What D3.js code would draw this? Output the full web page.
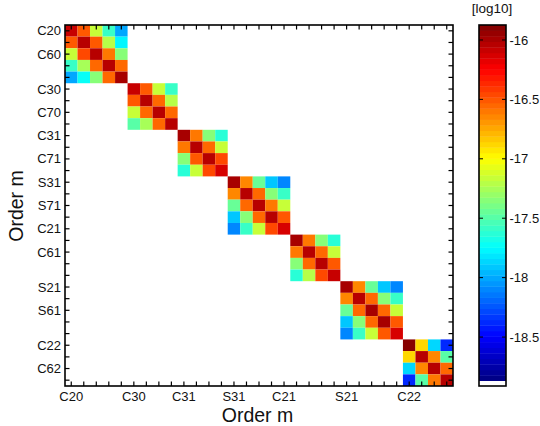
<!DOCTYPE html>
<html><head><meta charset="utf-8">
<script src="https://cdn.jsdelivr.net/npm/d3@7/dist/d3.min.js"></script>
<style>html,body{margin:0;padding:0;background:#fff}svg{display:block}text{font-family:"Liberation Sans",Arial,sans-serif;fill:#111}</style>
</head><body><svg id="c" width="540" height="426"></svg>
<script>
const rowTickIdx=[0,2,5,7,9,11,13,15,17,19,22,24,27,29];
const rowTickLabels=["C20","C60","C30","C70","C31","C71","S31","S71","C21","C61","S21","S61","C22","C62"];
const colTickIdx=[0,5,9,13,17,22,27];
const colTickLabels=["C20","C30","C31","S31","C21","S21","C22"];
const cbarTicks=[-16,-16.5,-17,-17.5,-18,-18.5];
const blockC20=[[-16.08,-16.50,-17.16,-17.56,-18.02],[-16.50,-16.04,-16.50,-17.23,-17.75],[-17.18,-16.48,-16.02,-16.58,-17.33],[-17.56,-17.25,-16.55,-16.02,-16.55],[-18.02,-17.73,-17.33,-16.54,-15.99]];
const blockC30=[[-16.08,-16.50,-17.14,-17.56],[-16.50,-16.06,-16.57,-17.23],[-17.16,-16.55,-16.04,-16.55],[-17.51,-17.25,-16.55,-16.06]];
const blockC31=[[-15.99,-16.62,-17.33,-17.65],[-16.62,-16.02,-16.55,-17.18],[-17.33,-16.52,-16.02,-16.48],[-17.65,-17.18,-16.48,-16.11]];
const blockS31=[[-15.97,-16.66,-17.42,-17.91,-18.12],[-16.65,-16.02,-16.55,-17.33,-17.60],[-17.42,-16.55,-16.02,-16.58,-17.16],[-17.91,-17.33,-16.57,-16.02,-16.50],[-18.12,-17.60,-17.16,-16.48,-16.13]];
const blockC21=[[-15.99,-16.62,-17.33,-17.65],[-16.62,-16.02,-16.55,-17.18],[-17.33,-16.55,-16.03,-16.50],[-17.65,-17.20,-16.48,-16.09]];
const blockS21=[[-15.97,-16.66,-17.42,-17.91,-18.12],[-16.65,-16.02,-16.55,-17.33,-17.60],[-17.42,-16.55,-15.99,-16.55,-17.16],[-17.91,-17.33,-16.57,-16.00,-16.52],[-18.12,-17.60,-17.16,-16.50,-16.13]];
const blockC22=[[-15.90,-16.86,-17.86,-18.40],[-16.86,-16.02,-16.66,-17.51],[-17.86,-16.66,-16.04,-16.57],[-18.40,-17.51,-16.58,-16.02]];
const blocks=[blockC20,blockC30,blockC31,blockS31,blockC21,blockS21,blockC22];

const L=65,R=453,T=25,B=386,n=d3.sum(blocks,b=>b.length);
const idx=d3.range(n);
const x=d3.scaleBand().domain(idx).range([L,R]);
const y=d3.scaleBand().domain(idx).range([T,B]);
const vMax=-15.874,vMin=-18.87;
const levels=64;
function jet(t){const c=v=>Math.round(255*Math.max(0,Math.min(1,v)));
  return `rgb(${c(Math.min(4*t-1.5,-4*t+4.5))},${c(Math.min(4*t-0.5,-4*t+3.5))},${c(Math.min(4*t+0.5,-4*t+2.5))})`;}
const quant=d3.scaleQuantize().domain([vMin,vMax]).range(d3.range(levels).map(i=>jet((i+0.5)/levels)));
const svg=d3.select("#c");

let off=0;const cells=[];
blocks.forEach(b=>{b.forEach((row,i)=>row.forEach((v,j)=>cells.push({r:off+i,c:off+j,v})));off+=b.length;});
svg.append("g").selectAll("rect").data(cells).join("rect")
  .attr("x",d=>x(d.c)).attr("y",d=>y(d.r)).attr("width",x.bandwidth()).attr("height",y.bandwidth())
  .attr("fill",d=>quant(d.v));

const mid=s=>d=>s(d)+s.bandwidth()/2;
function ticks(g,dir,sc){
  const hor=dir==="top"||dir==="bottom";
  const sel=g.selectAll("line").data(idx).join("line").attr("stroke","#000").attr("stroke-width",1.2);
  const m=mid(sc),len=4.5;
  if(hor) sel.attr("x1",m).attr("x2",m).attr("y1",dir==="bottom"?B:T).attr("y2",dir==="bottom"?B-len:T+len);
  else sel.attr("y1",m).attr("y2",m).attr("x1",dir==="left"?L:R).attr("x2",dir==="left"?L+len:R-len);
}
["top","bottom"].forEach(d=>ticks(svg.append("g"),d,x));
["left","right"].forEach(d=>ticks(svg.append("g"),d,y));
svg.append("rect").attr("x",L).attr("y",T).attr("width",R-L).attr("height",B-T).attr("fill","none").attr("stroke","#000").attr("stroke-width",1.6);

const fs=13;
svg.append("g").selectAll("text").data(rowTickIdx).join("text")
  .attr("x",L-4).attr("y",mid(y)).attr("dy","0.35em").attr("text-anchor","end").attr("font-size",fs)
  .text((d,i)=>rowTickLabels[i]);
svg.append("g").selectAll("text").data(colTickIdx).join("text")
  .attr("x",mid(x)).attr("y",401).attr("text-anchor","middle").attr("font-size",fs)
  .text((d,i)=>colTickLabels[i]);
svg.append("text").attr("x",257.5).attr("y",422).attr("text-anchor","middle").attr("font-size",19.5).text("Order m");
svg.append("text").attr("transform","translate(23,206) rotate(-90)").attr("text-anchor","middle").attr("font-size",19.5).text("Order m");

// colour bar
const cL=479,cR=506,cB=381;
const cy=d3.scaleLinear().domain([vMax,vMin]).range([T,cB]);
const lv=d3.range(levels).map(i=>vMin+(vMax-vMin)*i/levels);
const step=(vMax-vMin)/levels;
svg.append("g").selectAll("rect").data(lv).join("rect")
  .attr("x",cL).attr("width",cR-cL).attr("y",d=>cy(d+step)).attr("height",d=>cy(d)-cy(d+step)+0.4)
  .attr("fill",d=>quant(d+step/2));
svg.append("rect").attr("x",cL).attr("y",cB).attr("width",cR-cL).attr("height",B-cB).attr("fill","#fff");
svg.append("rect").attr("x",cL).attr("y",T).attr("width",cR-cL).attr("height",B-T).attr("fill","none").attr("stroke","#000").attr("stroke-width",1.6);
const tg=svg.append("g").selectAll("g").data(cbarTicks).join("g");
tg.append("line").attr("x1",cL).attr("x2",cL+4).attr("y1",cy).attr("y2",cy).attr("stroke","#000").attr("stroke-width",1);
tg.append("line").attr("x1",cR).attr("x2",cR-4).attr("y1",cy).attr("y2",cy).attr("stroke","#000").attr("stroke-width",1);
tg.append("text").attr("x",cR+3.5).attr("y",cy).attr("dy","0.35em").attr("font-size",fs).text(d=>String(d));
svg.append("text").attr("x",492).attr("y",13).attr("text-anchor","middle").attr("font-size",13.5).text("[log10]");
</script></body></html>
